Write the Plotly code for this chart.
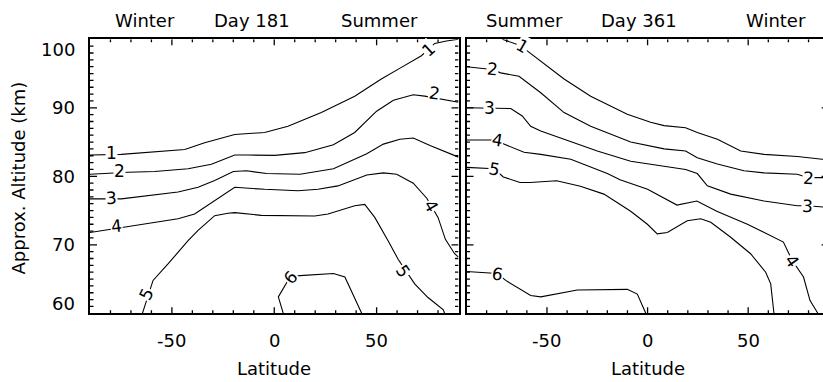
import plotly.graph_objects as go

FONT = "DejaVu Sans"
W, H = 823, 382

# ---- isolines, Day 181 (latitude in deg, altitude in km) ----
lat_181_1 = [-90, -74.7, -43.7, -34, -19.3, -4.7, 6.7, 23, 39.3, 52.3, 62.1, 71.9, 78.4, 84.1, 90]
alt_181_1 = [83.1, 83.2, 83.9, 84.9, 86.1, 86.4, 87.3, 89.3, 91.7, 94.2, 95.9, 97.6, 99.4, 99.75, 100]
lat_181_2 = [-90, -71.4, -58.4, -42.1, -30.7, -19.3, -12.8, 0.2, 14.9, 28.9, 39.3, 50, 58.2, 67.9, 73.5, 81.6, 90]
alt_181_2 = [80.3, 80.6, 80.7, 81.1, 81.75, 83.1, 83.1, 83.05, 83.45, 84.6, 86.4, 89.5, 91.1, 91.9, 91.7, 91.3, 90.8]
lat_181_3 = [-90, -74.7, -47, -37.2, -29.1, -20, -13.5, -3.7, 12.6, 28.9, 45.2, 53.3, 61.4, 67.9, 76.1, 87.5, 90]
alt_181_3 = [76.7, 76.7, 77.7, 78.4, 79.4, 80.7, 80.8, 80.4, 80.3, 81.1, 83.3, 84.7, 85.4, 85.6, 84.5, 83.1, 82.8]
lat_181_4 = [-90, -74.7, -47, -38.9, -29.1, -19.3, -4.7, 11.6, 21.4, 31.1, 45.2, 53.3, 59.8, 67.9, 74.5, 80.0, 83.6, 88.1, 90]
alt_181_4 = [71.8, 72.55, 73.8, 74.5, 76.4, 78.4, 78.1, 77.9, 78.1, 78.6, 80.2, 80.5, 80.3, 79.0, 76.8, 74.0, 70.8, 68.7, 68.2]
lat_181_5 = [-64.4, -59.2, -51.9, -42.1, -37.2, -29.1, -22.6, -19.3, -6.3, 19.8, 26.3, 39.3, 44.2, 49.1, 55.6, 60.5, 68.6, 75.1, 82.6, 83.2]
alt_181_5 = [60, 64.8, 67.2, 70.6, 72.1, 74.25, 74.6, 74.7, 74.3, 74.2, 74.5, 75.7, 75.9, 74.0, 70.6, 67.9, 64.3, 62.3, 60.5, 60]
lat_181_6 = [4.4, 2.0, 7.7, 12.6, 28.9, 34.5, 42.7]
alt_181_6 = [60, 62.4, 65.3, 65.5, 65.8, 65.3, 60]

# ---- isolines, Day 361 ----
lat_361_1 = [-72.2, -62.3, -59.8, -41.5, -28.3, -10.1, 1.5, 8.2, 18.9, 24.7, 34.7, 46.3, 57.9, 74.4, 86.8, 90]
alt_361_1 = [100, 99.0, 98.3, 94.2, 91.7, 89.05, 87.9, 87.4, 87.1, 86.4, 85.4, 83.7, 83.2, 82.9, 82.5, 82.4]
lat_361_2 = [-90, -77.2, -73, -63.9, -53.1, -41.5, -28.3, -8.4, 8.2, 18.9, 24.7, 34.7, 47.9, 57.9, 74.4, 79.9, 90]
alt_361_2 = [96.0, 95.6, 95.1, 94.6, 92.2, 89.3, 87.3, 85.0, 84.0, 83.7, 82.7, 81.8, 80.8, 80.5, 80.3, 79.8, 79.8]
lat_361_3 = [-90, -73.8, -68, -62.3, -58.1, -53.1, -41.5, -25, -8.4, 8.2, 18.9, 24.7, 29.7, 41.3, 57.9, 74.4, 79.4, 87.7, 90]
alt_361_3 = [90.0, 90.0, 89.9, 88.8, 87.3, 86.6, 85.4, 83.7, 82.2, 81.5, 81.0, 80.4, 78.6, 77.4, 76.4, 75.7, 75.7, 75.5, 75.4]
lat_361_4 = [-90, -74.7, -71.4, -61.4, -53.1, -38.2, -20, -13.7, 0, 14.6, 24.5, 34.4, 49.6, 67.5, 71.9, 77.5, 80.7, 84.6]
alt_361_4 = [85.3, 85.3, 84.7, 83.5, 83.2, 82.5, 80.4, 79.5, 78.1, 75.8, 76.4, 74.9, 73.0, 70.4, 67.7, 65.3, 61.9, 60.0]
lat_361_5 = [-90, -76.3, -71.7, -63.4, -58.4, -45.2, -33.4, -21.7, -8.4, -0.1, 4.8, 9.8, 19.7, 26.4, 31.4, 41.3, 51.2, 58.7, 61.2, 62.8]
alt_361_5 = [81.3, 81.1, 79.9, 79.1, 79.1, 79.35, 78.55, 77.4, 74.9, 73.0, 71.6, 71.8, 73.5, 73.8, 73.3, 71.1, 68.7, 66.0, 64.3, 60]
lat_361_6 = [-90, -74.7, -70.5, -58.1, -53.1, -34.9, -10.1, -5.1, -0.9]
alt_361_6 = [66.1, 65.8, 64.8, 62.6, 62.4, 63.4, 63.5, 62.8, 60]

levels = [1, 2, 3, 4, 5, 6]
lines_181 = {1: (lat_181_1, alt_181_1), 2: (lat_181_2, alt_181_2), 3: (lat_181_3, alt_181_3),
             4: (lat_181_4, alt_181_4), 5: (lat_181_5, alt_181_5), 6: (lat_181_6, alt_181_6)}
lines_361 = {1: (lat_361_1, alt_361_1), 2: (lat_361_2, alt_361_2), 3: (lat_361_3, alt_361_3),
             4: (lat_361_4, alt_361_4), 5: (lat_361_5, alt_361_5), 6: (lat_361_6, alt_361_6)}

# axis ticks and their labels
lat_ticks = [-50, 0, 50]
lat_tick_text = ["-50", "0", "50"]
alt_ticks = [60, 70, 80, 90, 100]
alt_tick_text = ["60", "70", "80", "90", "100"]
LAT_MINOR_STEP = 10
ALT_MINOR_STEP = 1

# panel geometry (pixels)
L0, L1 = 90.0, 458.5
R0, PX_PER_DEG_R = 466.5, 2.012
TOP, BOT = 39.3, 313.3
PX_PER_DEG_L = (L1 - L0) / 180.0
PX_PER_KM = (BOT - TOP) / 40.0
r_end = -90 + (W - R0) / PX_PER_DEG_R

fig = go.Figure()
for lev in levels:
    x, y = lines_181[lev]
    fig.add_trace(go.Scatter(x=x, y=y, mode="lines", line=dict(color="black", width=1.1),
                             xaxis="x", yaxis="y", showlegend=False, hoverinfo="skip"))
    x, y = lines_361[lev]
    fig.add_trace(go.Scatter(x=x, y=y, mode="lines", line=dict(color="black", width=1.1),
                             xaxis="x2", yaxis="y2", showlegend=False, hoverinfo="skip"))

# ---- inward tick marks on every side of the frames, as one broken polyline per panel ----
lat_all = list(range(-90 + LAT_MINOR_STEP, 90, LAT_MINOR_STEP))
n_alt = int(round((alt_ticks[-1] - alt_ticks[0]) / ALT_MINOR_STEP))
alt_all = [alt_ticks[0] + i * ALT_MINOR_STEP for i in range(1, n_alt)]

for xr, yr, xmax, ppd in [("x", "y", 90, PX_PER_DEG_L), ("x2", "y2", r_end, PX_PER_DEG_R)]:
    tx, ty = [], []
    for v in lat_all:
        if v > xmax:
            continue
        d = (6 if v in lat_ticks else 3) / PX_PER_KM
        tx += [v, v, None, v, v, None]
        ty += [60, 60 + d, None, 100 - d, 100, None]
    for v in alt_all:
        major = v in alt_ticks
        d = (7 if major else 3.5) / ppd
        tx += [-90, -90 + d, None]
        ty += [v, v, None]
        if xr == "x" or major:
            tx += [90 - d, 90, None]
            ty += [v, v, None]
    fig.add_trace(go.Scatter(x=tx, y=ty, mode="lines", line=dict(color="black", width=1.3),
                             xaxis=xr, yaxis=yr, showlegend=False, hoverinfo="skip",
                             connectgaps=False))


def txt(size=18):
    return dict(family=FONT, size=size, color="black")


ann = []
# inline level labels: (panel, level, lat, alt, angle)
label_spots = [
    ("x", 1, -79.6, 83.45, 0), ("x", 1, 75.1, 98.5, -42),
    ("x", 2, -75.5, 80.8, 0), ("x", 2, 78.4, 92.2, 8),
    ("x", 3, -79.6, 76.8, -3), ("x", 4, -77.1, 72.8, -6),
    ("x", 4, 76.7, 75.7, 60), ("x", 5, -62.5, 62.8, -65),
    ("x", 5, 62.9, 66.2, 56), ("x", 6, 7.7, 65.2, -50),
    ("x2", 1, -62.3, 99.0, 30), ("x2", 2, -77.2, 95.6, 5),
    ("x2", 3, -78.8, 90.0, 0), ("x2", 4, -74.7, 85.3, 10),
    ("x2", 5, -76.3, 81.1, 10), ("x2", 2, 79.9, 79.7, 3),
    ("x2", 3, 79.4, 75.7, 3), ("x2", 4, 71.9, 67.7, 55),
    ("x2", 6, -74.7, 65.8, 10),
]
for xr, lev, la, al, ang in label_spots:
    ann.append(dict(x=la, y=al, xref=xr, yref="y" if xr == "x" else "y2", text=str(lev),
                    showarrow=False, textangle=ang, bgcolor="white", borderpad=0, font=txt(17)))

# season / day headers
for xr, la, t in [("x", -63.1, "Winter"), ("x", -11, "Day 181"), ("x", 51.5, "Summer"),
                  ("x2", -61.4, "Summer"), ("x2", -4.3, "Day 361"), ("x2", 63.6, "Winter")]:
    ann.append(dict(x=la, y=1 - 20.5 / H, xref=xr, yref="paper", text=t, showarrow=False,
                    xanchor="center", yanchor="middle", font=txt()))

# latitude tick labels under both panels
for xr in ["x", "x2"]:
    for v, t in zip(lat_ticks, lat_tick_text):
        ann.append(dict(x=v, y=1 - 340 / H, xref=xr, yref="paper", text=t, showarrow=False,
                        xanchor="center", yanchor="middle", font=txt()))
    ann.append(dict(x=0, y=1 - 368.5 / H, xref=xr, yref="paper", text="Latitude", showarrow=False,
                    xanchor="center", yanchor="middle", font=txt()))

# altitude tick labels; the end labels sit inside the frame
for v, t in zip(alt_ticks, alt_tick_text):
    anchor, shift = "middle", 0
    if v == alt_ticks[-1]:
        anchor, shift = "top", 2
    elif v == alt_ticks[0]:
        anchor, shift = "bottom", -3
    ann.append(dict(x=77 / W, y=v, xref="paper", yref="y", text=t, showarrow=False,
                    xanchor="right", yanchor=anchor, yshift=shift, font=txt()))

ann.append(dict(x=18 / W, y=1 - 178.5 / H, xref="paper", yref="paper", text="Approx. Altitude (km)",
                showarrow=False, textangle=-90, xanchor="center", yanchor="middle", font=txt()))

axis_common = dict(showgrid=False, zeroline=False, showline=True, linecolor="black", linewidth=1.6,
                   ticks="", showticklabels=False)

fig.update_layout(
    width=W, height=H, margin=dict(l=0, r=0, t=0, b=0),
    paper_bgcolor="white", plot_bgcolor="white",
    xaxis=dict(axis_common, range=[-90, 90], domain=[L0 / W, L1 / W], anchor="y", mirror=True),
    yaxis=dict(axis_common, range=[60, 100], domain=[1 - BOT / H, 1 - TOP / H], anchor="x", mirror=True),
    xaxis2=dict(axis_common, range=[-90, r_end], domain=[R0 / W, 1.0], anchor="y2", mirror=True),
    yaxis2=dict(axis_common, range=[60, 100], domain=[1 - BOT / H, 1 - TOP / H], anchor="x2", mirror=False),
    annotations=ann,
)

fig.write_html("out.html")
